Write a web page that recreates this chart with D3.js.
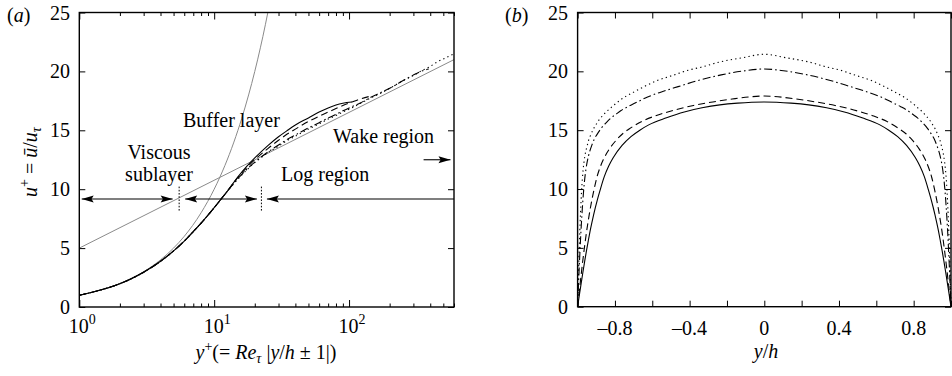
<!DOCTYPE html>
<html>
<head>
<meta charset="utf-8">
<script src="https://cdn.jsdelivr.net/npm/d3@7"></script>
<style>
  html, body { margin: 0; padding: 0; background: #fff; }
</style>
</head>
<body>
<svg id="fig" width="952" height="376"></svg>
<script>
// Mean velocity profiles of turbulent channel flow in wall units (u+ vs y+)
// at four friction Reynolds numbers; each profile runs from the wall to the centreline.
const yPlus = [1, 1.5, 2, 3, 4, 5, 6, 7, 8, 9, 10, 11, 12.5, 15, 17.5, 20, 25, 30, 35, 40,
               50, 60, 70, 80, 90, 105, 120, 145, 175, 210, 250, 300, 350, 390, 450, 520, 590];
const reTau = [105, 145, 390, 590];

const uRe105 = [1.0, 1.5, 1.98, 2.95, 3.88, 4.76, 5.6, 6.4, 7.12, 7.8, 8.43, 9.02, 9.82, 11.05, 11.95, 12.65, 13.7, 14.45, 15.0, 15.45,
                16.05, 16.55, 16.9, 17.15, 17.3, 17.4];
const uRe145 = [1.0, 1.5, 1.98, 2.95, 3.88, 4.76, 5.6, 6.4, 7.12, 7.8, 8.43, 9.02, 9.82, 11.0, 11.85, 12.5, 13.45, 14.15, 14.7, 15.1,
                15.75, 16.2, 16.55, 16.85, 17.1, 17.4, 17.65, 17.9];
const uRe390 = [1.0, 1.5, 1.98, 2.95, 3.88, 4.76, 5.6, 6.4, 7.12, 7.8, 8.43, 9.02, 9.82, 10.9, 11.7, 12.3, 13.15, 13.75, 14.25, 14.6,
                15.2, 15.65, 16.05, 16.35, 16.65, 17.0, 17.3, 17.8, 18.25, 18.7, 19.2, 19.7, 20.05, 20.2];
const uRe590 = [1.0, 1.5, 1.98, 2.95, 3.88, 4.76, 5.6, 6.4, 7.12, 7.8, 8.43, 9.02, 9.82, 10.85, 11.65, 12.25, 13.1, 13.65, 14.15, 14.5,
                15.1, 15.55, 15.95, 16.25, 16.55, 16.9, 17.25, 17.75, 18.2, 18.7, 19.2, 19.65, 20.1, 20.35, 20.8, 21.15, 21.45];
const profiles = [uRe105, uRe145, uRe390, uRe590];
const dashes = [null, "7,4", "8,3,1.6,3", "1.3,3.2"];

// Reference laws: viscous sublayer u+ = y+, log law through (1, 5.0) and (600, 21.0)
const viscousLawY = [1, 1.5, 2, 3, 4, 5, 6, 8, 10, 12, 14, 16, 18, 20, 22, 24, 26];
const logLawY = [1, 600];
const logLawU = [5.0, 21.0];

// Region boundaries (y+) and the level of the annotation arrows (u+)
const regionBounds = [5.5, 22.4];
const arrowLevel = 9.17;
const wakeArrow = [357, 565];
const wakeLevel = 12.5;

const xTicksA = [1, 10, 100];
const xMinorA = [2, 3, 4, 5, 6, 7, 8, 9, 20, 30, 40, 50, 60, 70, 80, 90, 200, 300, 400, 500, 600];
const xTickLabelsA = ["0", "1", "2"];
const yTicks = [0, 5, 10, 15, 20, 25];
const xTicksB = [-1, -0.8, -0.6, -0.4, -0.2, 0, 0.2, 0.4, 0.6, 0.8, 1];
const xLabelTicksB = [-0.8, -0.4, 0, 0.4, 0.8];

const svg = d3.select("#fig");
const FS = 20;
const FONT = "'Liberation Serif', 'Times New Roman', serif";

// text helper with the serif face set inline
function txt(g, x, y, anchor) {
  return g.append("text").attr("x", x).attr("y", y).attr("text-anchor", anchor || "start")
    .style("font-family", FONT).style("font-size", FS + "px").attr("fill", "#000");
}

// ---------- panel (a) ----------
const A = { l: 79.3, r: 454, t: 12.5, b: 307 };
const xA = d3.scaleLog().domain([1, 600]).range([A.l, A.r]);
const yA = d3.scaleLinear().domain([0, 25]).range([A.b, A.t]);

svg.append("clipPath").attr("id", "clipA")
  .append("rect").attr("x", A.l).attr("y", A.t).attr("width", A.r - A.l).attr("height", A.b - A.t);

const gA = svg.append("g");
const plotA = gA.append("g").attr("clip-path", "url(#clipA)");

const lineA = d3.line().x(d => xA(d[0])).y(d => yA(d[1])).curve(d3.curveMonotoneX);

// reference laws in grey
plotA.append("path").datum(viscousLawY.map(v => [v, v]))
  .attr("d", lineA).attr("fill", "none").attr("stroke", "#8a8a8a").attr("stroke-width", 1);
plotA.append("path").datum(logLawY.map((v, i) => [v, logLawU[i]]))
  .attr("d", d3.line().x(d => xA(d[0])).y(d => yA(d[1])))
  .attr("fill", "none").attr("stroke", "#8a8a8a").attr("stroke-width", 1);

// DNS profiles
profiles.forEach((u, k) => {
  plotA.append("path").datum(u.map((v, i) => [yPlus[i], v]))
    .attr("d", lineA).attr("fill", "none").attr("stroke", "#000")
    .attr("stroke-width", 1.1).attr("stroke-dasharray", dashes[k]);
});

// region markers
regionBounds.forEach(b => {
  gA.append("line").attr("x1", xA(b)).attr("x2", xA(b))
    .attr("y1", yA(arrowLevel + 1.05)).attr("y2", yA(arrowLevel - 1.0))
    .attr("stroke", "#000").attr("stroke-width", 1).attr("stroke-dasharray", "1.6,1.6");
});

function arrowHead(g, xTip, yTip, dir) {
  const L = 12, H = 3.4;
  g.append("path")
    .attr("d", `M${xTip},${yTip} L${xTip - dir * L},${yTip - H} L${xTip - dir * L * 0.82},${yTip} L${xTip - dir * L},${yTip + H} Z`)
    .attr("fill", "#000");
}
function hArrow(g, x0, x1, y, headL, headR) {
  g.append("line").attr("x1", x0).attr("x2", x1).attr("y1", y).attr("y2", y)
    .attr("stroke", "#000").attr("stroke-width", 1.1);
  if (headL) arrowHead(g, x0, y, -1);
  if (headR) arrowHead(g, x1, y, 1);
}
const ay = yA(arrowLevel);
hArrow(gA, xA(1) + 2.4, xA(regionBounds[0]) - 6.5, ay, true, true);
hArrow(gA, xA(regionBounds[0]) + 6, xA(regionBounds[1]) - 4.5, ay, true, true);
hArrow(gA, xA(regionBounds[1]) + 5.5, xA(600), ay, true, false);
hArrow(gA, xA(wakeArrow[0]), xA(wakeArrow[1]), yA(wakeLevel), false, true);

// annotations
const ann = [
  ["Viscous", 159, 159, "middle"],
  ["sublayer", 159, 181, "middle"],
  ["Buffer layer", 183, 127, "start"],
  ["Wake region", 333, 143, "start"],
  ["Log region", 281, 181, "start"]
];
ann.forEach(a => { txt(gA, a[1], a[2], a[3]).text(a[0]); });

// axes (ticks pointing inward)
function stripDomain(g) { g.select(".domain").remove(); g.selectAll("text").remove(); }
gA.append("g").attr("transform", `translate(0,${A.b})`)
  .call(d3.axisBottom(xA).tickValues(xTicksA).tickSize(-7).tickFormat("")).call(stripDomain);
gA.append("g").attr("transform", `translate(0,${A.b})`)
  .call(d3.axisBottom(xA).tickValues(xMinorA).tickSize(-3.5).tickFormat("")).call(stripDomain);
gA.append("g").attr("transform", `translate(0,${A.t})`)
  .call(d3.axisTop(xA).tickValues(xTicksA).tickSize(-7).tickFormat("")).call(stripDomain);
gA.append("g").attr("transform", `translate(0,${A.t})`)
  .call(d3.axisTop(xA).tickValues(xMinorA).tickSize(-3.5).tickFormat("")).call(stripDomain);
gA.append("g").attr("transform", `translate(${A.l},0)`)
  .call(d3.axisLeft(yA).tickValues(yTicks).tickSize(-6).tickFormat("")).call(stripDomain);
gA.append("g").attr("transform", `translate(${A.r},0)`)
  .call(d3.axisRight(yA).tickValues(yTicks).tickSize(-6).tickFormat("")).call(stripDomain);
gA.selectAll(".tick line").attr("stroke", "#000").attr("stroke-width", 1);

gA.append("rect").attr("x", A.l).attr("y", A.t).attr("width", A.r - A.l).attr("height", A.b - A.t)
  .attr("fill", "none").attr("stroke", "#000").attr("stroke-width", 1.4);

// tick labels
xTicksA.forEach((v, i) => {
  const t = txt(gA, xA(v) + 3, 333, "middle");
  t.append("tspan").text("10");
  t.append("tspan").attr("dy", -9).style("font-size", "14px").text(xTickLabelsA[i]);
});
yTicks.forEach(v => {
  txt(gA, 70, yA(v), "end").attr("dy", "0.35em").text(v);
});

// axis titles
{
  const t = txt(gA, 266, 359, "middle");
  t.append("tspan").style("font-style", "italic").text("y");
  t.append("tspan").attr("dy", -8).style("font-size", "14px").text("+");
  t.append("tspan").attr("dy", 8).text("(= ");
  t.append("tspan").style("font-style", "italic").text("Re");
  t.append("tspan").attr("dy", 4).style("font-size", "14px").style("font-style", "italic").text("τ");
  t.append("tspan").attr("dy", -4).text(" |");
  t.append("tspan").style("font-style", "italic").text("y");
  t.append("tspan").text("/");
  t.append("tspan").style("font-style", "italic").text("h");
  t.append("tspan").text(" ± 1|)");
}
{
  const t = txt(gA, 0, 0, "middle").attr("transform", "translate(37,162) rotate(-90)");
  t.append("tspan").style("font-style", "italic").text("u");
  t.append("tspan").attr("dy", -8).style("font-size", "14px").text("+");
  t.append("tspan").attr("dy", 8).text(" = ");
  t.append("tspan").style("font-style", "italic").text("ū");
  t.append("tspan").text("/");
  t.append("tspan").style("font-style", "italic").text("u");
  t.append("tspan").attr("dy", 4).style("font-size", "14px").style("font-style", "italic").text("τ");
}
{
  const t = txt(gA, 7, 22);
  t.append("tspan").text("(");
  t.append("tspan").style("font-style", "italic").text("a");
  t.append("tspan").text(")");
}

// ---------- panel (b): same profiles across the whole channel in outer units ----------
const B = { l: 577.6, r: 951, t: 12.5, b: 306.7 };
const xB = d3.scaleLinear().domain([-1, 1]).range([B.l, B.r]);
const yB = d3.scaleLinear().domain([0, 25]).range([B.b, B.t]);
const gB = svg.append("g");
const lineB = d3.line().x(d => xB(d[0])).y(d => yB(d[1])).curve(d3.curveMonotoneX);

profiles.forEach((u, k) => {
  const re = reTau[k];
  const lower = [[-1, 0]].concat(u.map((v, i) => [yPlus[i] / re - 1, v]));
  const upper = u.slice(0, -1).map((v, i) => [1 - yPlus[i] / re, v]).reverse().concat([[1, 0]]);
  gB.append("path").datum(lower.concat(upper))
    .attr("d", lineB).attr("fill", "none").attr("stroke", "#000")
    .attr("stroke-width", 1.1).attr("stroke-dasharray", dashes[k]);
});

gB.append("g").attr("transform", `translate(0,${B.b})`)
  .call(d3.axisBottom(xB).tickValues(xTicksB).tickSize(-6).tickFormat("")).call(stripDomain);
gB.append("g").attr("transform", `translate(0,${B.t})`)
  .call(d3.axisTop(xB).tickValues(xTicksB).tickSize(-6).tickFormat("")).call(stripDomain);
gB.append("g").attr("transform", `translate(${B.l},0)`)
  .call(d3.axisLeft(yB).tickValues(yTicks).tickSize(-6).tickFormat("")).call(stripDomain);
gB.append("g").attr("transform", `translate(${B.r},0)`)
  .call(d3.axisRight(yB).tickValues(yTicks).tickSize(-6).tickFormat("")).call(stripDomain);
gB.selectAll(".tick line").attr("stroke", "#000").attr("stroke-width", 1);

gB.append("rect").attr("x", B.l).attr("y", B.t).attr("width", B.r - B.l).attr("height", B.b - B.t)
  .attr("fill", "none").attr("stroke", "#000").attr("stroke-width", 1.4);

xLabelTicksB.forEach(v => {
  txt(gB, xB(v), 335, "middle")
    .text(v === 0 ? "0" : (v < 0 ? "\u2013" : "") + Math.abs(v).toFixed(1));
});
yTicks.forEach(v => {
  txt(gB, 568, yB(v), "end").attr("dy", "0.35em").text(v);
});
{
  const t = txt(gB, 766, 358, "middle");
  t.append("tspan").style("font-style", "italic").text("y");
  t.append("tspan").text("/");
  t.append("tspan").style("font-style", "italic").text("h");
}
{
  const t = txt(gB, 505, 22);
  t.append("tspan").text("(");
  t.append("tspan").style("font-style", "italic").text("b");
  t.append("tspan").text(")");
}
</script>
</body>
</html>
